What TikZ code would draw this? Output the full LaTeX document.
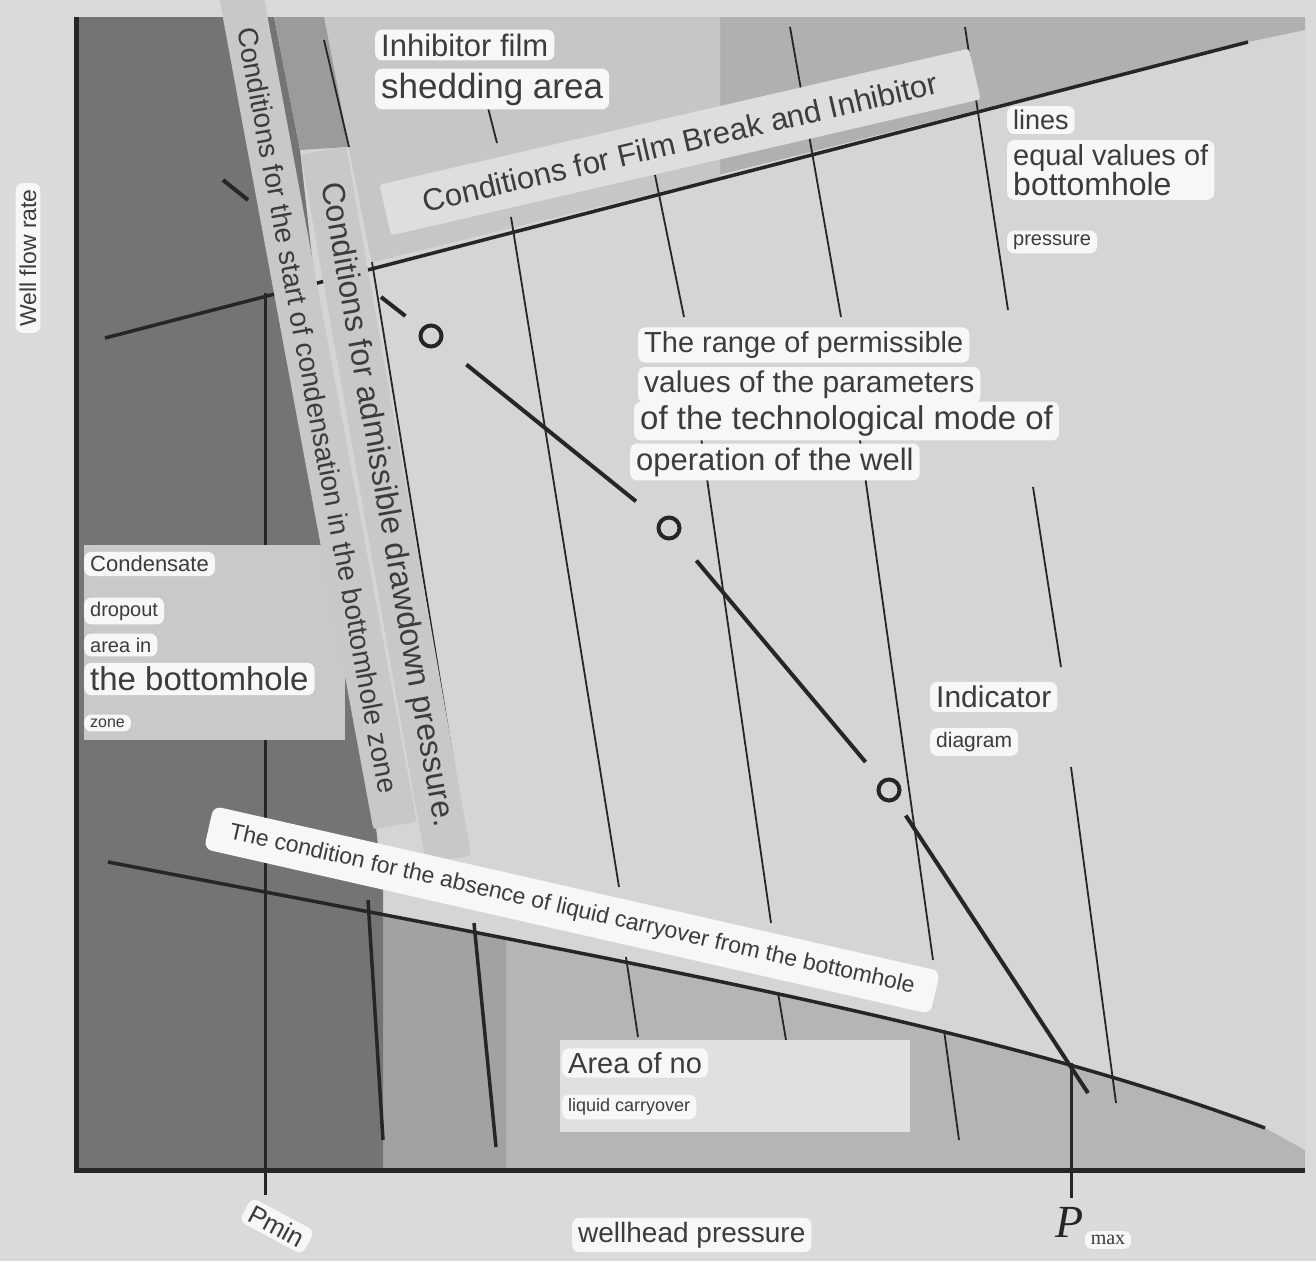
\documentclass[tikz,border=0pt]{standalone}
\usepackage{fontspec}
\setmainfont{Liberation Sans}
\newfontfamily\pfont{Liberation Serif}
\newcommand{\fsz}[1]{\fontsize{#1}{#1}\selectfont}
\definecolor{outerbg}{HTML}{DADADA}
\definecolor{plotbg}{HTML}{D5D5D5}
\definecolor{darkzone}{HTML}{747474}
\definecolor{midzone}{HTML}{9B9B9B}
\definecolor{filmzone}{HTML}{B0B0B0}
\definecolor{filmpatch}{HTML}{C6C6C6}
\definecolor{carryzone}{HTML}{B5B5B5}
\definecolor{carrydark}{HTML}{A2A2A2}
\definecolor{panelgray}{HTML}{C9C9C9}
\definecolor{panellight}{HTML}{E0E0E0}
\definecolor{bandgray}{HTML}{C8C8C8}
\definecolor{bandlight}{HTML}{DEDEDE}
\definecolor{tagwhite}{HTML}{F7F7F7}
\definecolor{ink}{HTML}{3C3C3C}
\definecolor{pen}{HTML}{262626}
\begin{document}
\begin{tikzpicture}[x=1pt, y=-1pt,
    tag/.style={fill=tagwhite, rounded corners=7pt, text=ink, inner xsep=6pt, inner ysep=4pt, anchor=west},
    band/.style={text=ink, inner xsep=12pt, inner ysep=0pt, rounded corners=3pt},
    iso/.style={draw=pen, line width=1.8pt},
    bold/.style={draw=pen, line width=3.5pt},
    ring/.style={circle, draw=pen, line width=4pt, minimum size=21pt, inner sep=0pt}]
  \useasboundingbox (0,0) rectangle (1316,1261);
  \fill[outerbg] (0,0) rectangle (1316,1261);
  \fill[plotbg] (76,17) rectangle (1305,1170);

  % zones
  \fill[filmzone] (300,17) -- (1305,17) -- (1305,30) -- (1248,42) -- (372,262) -- (349,147) -- cycle;
  \fill[filmpatch] (324,17) -- (720,17) -- (720,177) -- (372,262) -- (349,147) -- cycle;
  \fill[carryzone] (108,862) .. controls (700,975) and (1000,1030) .. (1265,1128) -- (1305,1150) -- (1305,1170) -- (108,1170) -- cycle;
  \fill[carrydark] (383,916) -- (506,939) -- (506,1170) -- (383,1170) -- cycle;
  \fill[darkzone] (76,17) -- (274,17) -- (300,150) -- (383,890) -- (383,1170) -- (76,1170) -- cycle;
  \fill[midzone] (274,17) -- (324,17) -- (349,147) -- (300,150) -- cycle;

  % film break line and carryover line
  \draw[bold] (105,338) -- (1248,42);
  \draw[bold] (108,862) .. controls (700,975) and (1000,1030) .. (1265,1128);

  % lines of equal bottomhole pressure
  \draw[iso] (324,40) -- (349,147);
  \draw[iso] (372,262) -- (466,840);
  \draw[iso] (486,100) -- (497,143);
  \draw[iso] (511,217) -- (619,887);
  \draw[iso] (626,957) -- (638,1037);
  \draw[iso] (655,175) -- (684,317);
  \draw[iso] (700,430) -- (771,923);
  \draw[iso] (778,993) -- (786,1040);
  \draw[iso] (790,27) -- (841,317);
  \draw[iso] (860,440) -- (933,960);
  \draw[iso] (944,1030) -- (959,1140);
  \draw[iso] (965,27) -- (1008,310);
  \draw[iso] (1033,487) -- (1061,667);
  \draw[iso] (1071,767) -- (1116,1103);
  \draw[bold] (368,900) -- (383,1140);
  \draw[bold] (474,923) -- (496,1147);

  % Pmin and Pmax
  \coordinate (pminTop) at (265,293);
  \coordinate (pminFoot) at (265,1195);
  \draw[bold, line width=3pt] (pminTop) -- (pminFoot);
  \coordinate (pmaxTop) at (1071,1063);
  \coordinate (pmaxFoot) at (1071,1198);
  \draw[bold, line width=3pt] (pmaxTop) -- (pmaxFoot);

  % indicator diagram
  \node[ring] (c1) at (431,336) {};
  \node[ring] (c2) at (669,528) {};
  \node[ring] (c3) at (889,790) {};
  \coordinate (ind0) at (223,180);
  \coordinate (ind1) at (248,200);
  \coordinate (ind2) at (381,297);
  \coordinate (ind5) at (1088,1093);
  \draw[bold, line width=4pt] (ind0) -- (ind1);
  \draw[bold, line width=4pt, shorten >=20pt] (ind2) -- (c1);
  \draw[bold, line width=4pt, shorten <=33pt, shorten >=30pt] (c1) -- (c2);
  \draw[bold, line width=4pt, shorten <=30pt, shorten >=24pt] (c2) -- (c3);
  \draw[bold, line width=4pt, shorten <=18pt] (c3) -- (ind5);

  % axes
  \coordinate (top) at (76,17);
  \coordinate (O) at (76,1170);
  \coordinate (right) at (1305,1170);
  \draw[pen, line width=5pt] (top) -- (O) -- (right);

  % panels behind labels
  \fill[panelgray] (84,545) rectangle (345,740);
  \fill[panellight] (560,1040) rectangle (910,1132);

  % slanted bands
  \node[band, fill=bandgray, rotate=-79.5, minimum width=845pt, minimum height=44pt, font=\fsz{28}] (startband) at (318,410) {Conditions for the start of condensation in the bottomhole zone};
  \node[band, fill=bandgray, rotate=-80, minimum width=720pt, minimum height=46pt, font=\fsz{32}] (drawband) at (386,505) {Conditions for admissible drawdown pressure.};
  \node[band, fill=bandlight, rotate=13, minimum width=605pt, minimum height=52pt, font=\fsz{31}] (filmband) at (680,142) {Conditions for Film Break and Inhibitor};
  \node[band, fill=tagwhite, rotate=-12.8, minimum width=745pt, minimum height=44pt, rounded corners=8pt, font=\fsz{23}] (carryband) at (572,910) {The condition for the absence of liquid carryover from the bottomhole};

  % labels
  \node[tag, anchor=center, rotate=90, font=\fsz{23}] (qlabel) at (28,258) {Well flow rate};
  \node[tag, font=\fsz{31}] (inh1) at (375,45) {Inhibitor film};
  \node[tag, font=\fsz{35}] (inh2) at (375,89) {shedding area};
  \node[tag, font=\fsz{27}] (iso1) at (1007,120) {lines};
  \node[tag, align=left, font=\fsz{29}] (iso2) at (1007,170) {equal values of\\{\fsz{32}bottomhole}};
  \node[tag, font=\fsz{20}] (iso3) at (1007,242) {pressure};
  \node[tag, font=\fsz{29}] (rng1) at (638,345) {The range of permissible};
  \node[tag, font=\fsz{30}] (rng2) at (638,385) {values of the parameters};
  \node[tag, font=\fsz{33}] (rng3) at (634,421) {of the technological mode of};
  \node[tag, font=\fsz{31}] (rng4) at (630,462) {operation of the well};
  \node[tag, font=\fsz{22}] (cd1) at (84,564) {Condensate};
  \node[tag, font=\fsz{20}] (cd2) at (84,611) {dropout};
  \node[tag, font=\fsz{20}] (cd3) at (84,645) {area in};
  \node[tag, font=\fsz{33}] (cd4) at (84,679) {the bottomhole};
  \node[tag, font=\fsz{16}] (cd5) at (84,723) {zone};
  \node[tag, font=\fsz{30}] (indlbl1) at (930,697) {Indicator};
  \node[tag, font=\fsz{21}] (indlbl2) at (930,742) {diagram};
  \node[tag, font=\fsz{29}] (area1) at (562,1063) {Area of no};
  \node[tag, font=\fsz{18}] (area2) at (562,1107) {liquid carryover};
  \node[tag, font=\fsz{28}] (xlabel) at (572,1235) {wellhead pressure};
  \node[tag, anchor=center, rotate=-28, font=\fsz{26}] (pminlbl) at (277,1226) {Pmin};
  \node[tag, anchor=center, font=\pfont\fsz{20}] (pmaxsub) at (1108,1240) {max};
  \node[text=pen, font=\pfont\itshape\fsz{46}] (pmaxP) at (1070,1222) {P};
\end{tikzpicture}
\end{document}
